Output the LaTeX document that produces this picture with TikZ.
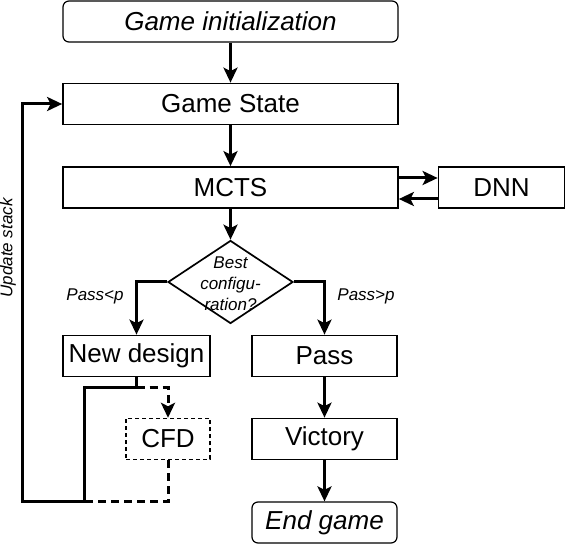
\documentclass[tikz,border=0pt]{standalone}
\usepackage{fontspec}
\setmainfont{Liberation Sans}
\usetikzlibrary{arrows.meta,shapes.geometric,calc}

\begin{document}
\begin{tikzpicture}[x=1pt,y=-1pt,
	box/.style={draw,line width=1.7pt,minimum height=41pt,inner sep=0pt,font=\fontsize{26}{30}\selectfont},
	startend/.style={box,line width=1.2pt,rounded corners=6pt,font=\fontsize{26}{30}\selectfont\itshape},
	flow/.style={line width=3pt,-{Stealth[length=15pt,width=14pt,inset=3.5pt]}},
	small/.style={font=\fontsize{17}{21}\selectfont\itshape}]

	\useasboundingbox (0,0) rectangle (566,545);

	\node[startend,minimum width=335pt] (init) at (230.5,21.5) {Game initialization};
	\node[box,minimum width=335pt] (state) at (230.5,104) {Game State};
	\node[box,minimum width=335pt] (mcts) at (230.5,187.5) {MCTS};
	\node[box,minimum width=126pt] (dnn) at (501.5,187.5) {DNN};

	\node[draw,diamond,line width=1.7pt,minimum width=125pt,minimum height=83pt,inner sep=0pt] (best) at (230.5,282) {};
	\node[small,align=center,inner sep=0pt] (bestlbl) at (230.5,284) {Best\\configu-\\ration?};

	\node[box,minimum width=147pt] (newd) at (136.5,356) {New design};
	\node[box,minimum width=145pt] (pass) at (324.5,356) {Pass};
	\node[box,line width=1.4pt,minimum width=84pt,dash pattern=on 4pt off 3pt] (cfd) at (168,439) {CFD};
	\node[box,minimum width=145pt] (vict) at (324.5,439) {Victory};
	\node[startend,minimum width=145pt] (endg) at (324.5,522.5) {End game};

	\draw[flow] (init) -- (state);
	\draw[flow] (state) -- (mcts);
	\draw[flow] ([yshift=9.5pt]mcts.east) -- ([yshift=9.5pt]dnn.west);
	\draw[flow] ([yshift=-11.5pt]dnn.west) -- ([yshift=-11.5pt]mcts.east);
	\draw[flow] (mcts) -- (best);

	\draw[flow] (best.west) -| (newd.north);
	\draw[flow] (best.east) -| (pass.north);
	\node[small] (less) at (95,296) {Pass<p};
	\node[small] (more) at (366,296) {Pass>p};

	\draw[flow] (pass) -- (vict);
	\draw[flow] (vict) -- (endg);

	% update loop
	\coordinate (fork) at ($(newd.south)+(0,10)$);
	\coordinate (corner) at (84,502);
	\coordinate (loop) at (22,502);
	\draw[flow] (newd.south) -- (fork) -| (corner) -- (loop) |- (state.west);
	\draw[flow,dash pattern=on 8pt off 5pt] (fork) -| (cfd.north);
	\draw[line width=3pt,dash pattern=on 8pt off 5pt] (cfd.south) |- (corner);
	\node[small,rotate=90] (upd) at (8,248) {Update stack};

\end{tikzpicture}
\end{document}
